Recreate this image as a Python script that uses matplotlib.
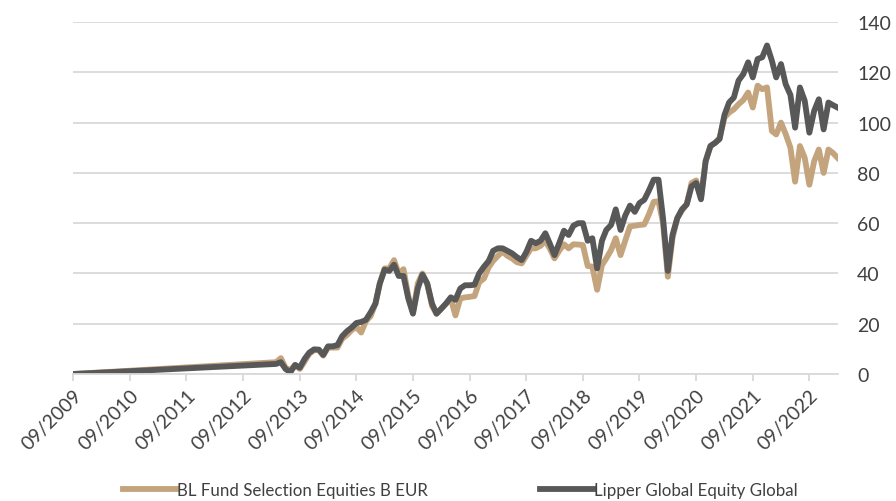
import matplotlib.pyplot as plt
import matplotlib.dates as mdates
import numpy as np
import pandas as pd

# first point is the 09/2009 start, then monthly values 04/2013 - 03/2023
start_date = "2009-09-30"
monthly_start = "2013-04-30"
n_months = 120

bl_fund = [4.7, 6.3, 2.5, 1.5, 3.6, 2.0, 5.0, 8.0, 9.5, 9.5,
           7.3, 10.5, 10.5, 10.5, 14.0, 15.5, 17.5, 18.7, 16.5, 21.0,
           23.0, 28.0, 36.0, 42.0, 42.0, 45.3, 40.0, 41.7, 31.0, 24.5,
           36.0, 40.0, 36.0, 27.0, 24.0, 26.0, 28.0, 30.0, 23.3, 30.0,
           30.5, 30.7, 31.0, 36.5, 38.0, 42.5, 45.0, 47.0, 48.7, 47.0,
           46.0, 44.5, 44.0, 47.0, 50.0, 50.0, 51.0, 53.0, 50.0, 46.0,
           49.0, 51.6, 50.0, 51.6, 51.5, 51.3, 43.0, 42.7, 33.5, 43.3,
           46.0, 49.3, 54.0, 47.3, 53.0, 58.7, 59.0, 59.3, 59.5, 63.5,
           68.5, 68.7, 60.0, 38.7, 54.0, 62.0, 65.0, 67.5, 76.0, 77.0,
           70.0, 84.7, 90.7, 92.0, 94.0, 102.0, 104.0, 105.3, 107.3, 109.0,
           112.0, 106.0, 114.7, 113.3, 114.0, 96.7, 95.3, 100.0, 95.5, 90.0,
           76.5, 90.7, 86.0, 75.3, 84.7, 89.3, 80.0, 89.3, 88.0, 86.0]

lipper = [4.0, 4.7, 2.0, 0.7, 3.6, 2.5, 6.0, 8.5, 9.8, 9.7,
          7.6, 11.0, 11.0, 11.5, 15.0, 17.0, 18.5, 20.3, 20.7, 21.5,
          24.5, 28.0, 36.0, 41.5, 41.0, 43.5, 39.0, 39.0, 30.0, 24.0,
          34.0, 39.5, 36.0, 28.0, 24.0, 26.0, 28.0, 30.5, 29.5, 34.0,
          35.3, 35.3, 35.5, 40.0, 42.7, 45.0, 49.0, 50.0, 50.0, 49.0,
          48.0, 46.5, 45.3, 48.5, 53.0, 52.0, 53.0, 56.0, 52.0, 47.3,
          52.0, 57.0, 55.3, 59.0, 60.0, 60.0, 53.0, 54.0, 42.0, 53.0,
          57.3, 59.3, 65.5, 57.3, 63.0, 67.0, 64.5, 68.0, 69.3, 73.0,
          77.3, 77.3, 62.0, 41.0, 55.3, 62.0, 65.5, 67.5, 74.7, 76.0,
          69.5, 84.7, 90.7, 92.0, 93.5, 103.0, 108.0, 110.0, 116.7, 119.3,
          124.0, 118.0, 125.3, 126.0, 130.7, 124.7, 118.0, 123.3, 115.3, 111.0,
          98.0, 114.0, 108.7, 96.0, 104.7, 109.3, 97.3, 108.0, 107.0, 106.0]

series_names = ["BL Fund Selection Equities B EUR", "Lipper Global Equity Global"]
yticks = [0, 20, 40, 60, 80, 100, 120, 140]

dates = [pd.Timestamp(start_date)] + list(pd.date_range(monthly_start, periods=n_months, freq="ME"))
bl = [0.0] + bl_fund
lg = [0.0] + lipper

plt.rcParams['font.family'] = ['Lato', 'DejaVu Sans']

fig = plt.figure(figsize=(8.96, 5.02), dpi=100)
ax = fig.add_axes([0.0818, 0.253, 0.853, 0.701])

ax.plot(dates, bl, color='#C4A47C', linewidth=4.2, label=series_names[0], solid_joinstyle='round')
ax.plot(dates, lg, color='#585858', linewidth=4.2, label=series_names[1], solid_joinstyle='round')

ax.set_ylim(0, 140)
ax.set_yticks(yticks)
ax.set_xlim(pd.Timestamp("2009-09-30"), pd.Timestamp("2023-03-31"))
ticks = pd.date_range("2009-09-30", "2022-09-30", freq="12ME")
ax.set_xticks(ticks)
ax.xaxis.set_major_formatter(mdates.DateFormatter("%m/%Y"))

ax.yaxis.tick_right()
ax.grid(axis='y', color='#D9D9D9', linewidth=1.3)
ax.set_axisbelow(True)
for s in ['top', 'left', 'right']:
    ax.spines[s].set_visible(False)
ax.spines['bottom'].set_color('#D9D9D9')
ax.spines['bottom'].set_linewidth(1.3)
ax.tick_params(axis='y', length=0, pad=14, labelsize=14, labelcolor='#404040')
ax.tick_params(axis='x', length=5, color='#D9D9D9', width=1.3, labelsize=14,
               labelcolor='#404040', pad=4)
plt.setp(ax.get_xticklabels(), rotation=45, ha='right', rotation_mode='anchor')

fig.legend(loc='center', bbox_to_anchor=(0.514, 0.022), ncol=2, frameon=False,
           fontsize=12.2, handlelength=3.1, handletextpad=0.1, columnspacing=6.6,
           labelcolor='#404040')

plt.savefig("out.png", dpi=100)
